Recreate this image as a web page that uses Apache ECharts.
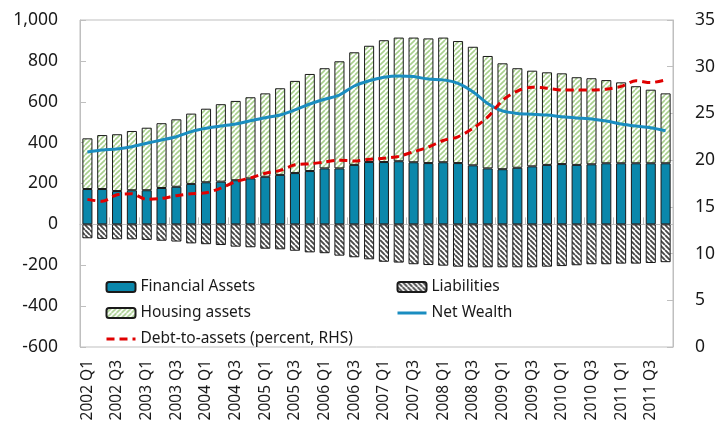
<!DOCTYPE html>
<html><head><meta charset="utf-8">
<script src="https://cdn.jsdelivr.net/npm/echarts@6/dist/echarts.min.js"></script>
<style>html,body{margin:0;padding:0;background:#fff}#c{width:722px;height:434px}</style>
</head><body><div id="c"></div>
<script>
const categories = [];
for (let y = 2002; y <= 2011; y++) for (let q = 1; q <= 4; q++) categories.push(y + ' Q' + q);
const financialAssets = [173,173,163,167,167,178,184,198,206,209,216,225,233,242,251,261,274,274,291,305,305,309,304,300,304,300,289,274,270,277,284,291,295,291,294,299,299,299,299,299];
const housingAssets = [248,264,278,290,306,317,330,344,360,379,388,397,408,424,451,475,490,524,551,569,596,605,610,610,610,597,580,550,518,487,468,453,444,429,421,407,396,377,360,342];
const liabilities = [-68,-71,-73,-73,-76,-80,-84,-93,-97,-101,-109,-112,-119,-122,-129,-137,-141,-153,-161,-171,-183,-187,-195,-199,-202,-207,-210,-210,-210,-210,-210,-207,-204,-200,-195,-195,-192,-192,-189,-185];
const netWealth = [354,364,369,380,397,413,429,454,470,481,491,507,522,535,560,589,612,633,677,703,720,726,723,711,707,690,649,592,555,543,539,535,527,521,516,506,491,481,473,458];
const debtToAssets = [15.8,15.6,16.3,16.4,15.8,15.9,16.2,16.4,16.5,17.0,17.7,18.1,18.6,18.9,19.5,19.6,19.8,20.0,19.9,20.1,20.2,20.4,20.9,21.4,22.1,22.5,23.4,24.6,26.4,27.4,27.8,27.7,27.5,27.5,27.5,27.6,27.9,28.5,28.3,28.6];

function stripes(color, dir, w, size) {
  const c = document.createElement('canvas');
  c.width = size; c.height = size;
  const g = c.getContext('2d');
  g.fillStyle = '#fff'; g.fillRect(0,0,size,size);
  g.strokeStyle = color; g.lineWidth = w;
  g.beginPath();
  for (let k = -1; k <= 1; k++) {
    if (dir > 0) { g.moveTo(k*size, size); g.lineTo(k*size+size, 0); }
    else { g.moveTo(k*size, 0); g.lineTo(k*size+size, size); }
  }
  g.stroke();
  return c;
}
const housingPat = {image: stripes('#a8d08d', 1, 1.6, 5), repeat: 'repeat'};
const liabPat = {image: stripes('#4a4a4a', -1, 1.9, 5), repeat: 'repeat'};

const font = 'Noto Sans';
const chart = echarts.init(document.getElementById('c'));
chart.setOption({
  animation: false,
  textStyle: {fontFamily: font},
  grid: {left: 80, right: 49, top: 20, bottom: 87, show: true, borderColor: '#bfbfbf', borderWidth: 1},
  legend: [
    {orient: 'vertical', left: 100, top: 274, itemWidth: 29, itemHeight: 10, itemGap: 10,
     textStyle: {fontSize: 15.5, color: '#1a1a1a', fontFamily: font},
     data: ['Financial Assets', 'Housing assets',
       {name: 'Debt-to-assets (percent, RHS)', itemStyle: {opacity: 0}, lineStyle: {width: 3}}]},
    {orient: 'vertical', left: 391, top: 274, itemWidth: 29, itemHeight: 10, itemGap: 10,
     textStyle: {fontSize: 15.5, color: '#1a1a1a', fontFamily: font},
     data: ['Liabilities', {name: 'Net Wealth', itemStyle: {opacity: 0}, lineStyle: {width: 3}}]}
  ],
  xAxis: [
    {type: 'category', data: categories, boundaryGap: true,
     axisLine: {onZero: true, lineStyle: {color: '#bfbfbf'}},
     axisTick: {show: true, inside: true, length: 7, interval: 1, lineStyle: {color: '#bfbfbf'}},
     axisLabel: {show: false}},
    {type: 'category', data: categories, position: 'bottom', boundaryGap: true,
     axisLine: {show: false}, axisTick: {show: false},
     axisLabel: {rotate: 90, interval: 1, fontSize: 15.5, color: '#1a1a1a', margin: 13, fontFamily: font}}
  ],
  yAxis: [
    {type: 'value', min: -600, max: 1000, interval: 200,
     axisLine: {show: true, lineStyle: {color: '#bfbfbf'}},
     axisTick: {show: true, inside: true, length: 6, lineStyle: {color: '#bfbfbf'}},
     splitLine: {show: false},
     axisLabel: {fontSize: 17.5, color: '#1a1a1a', margin: 22, fontFamily: font,
       formatter: v => v.toLocaleString('en-US')}},
    {type: 'value', min: 0, max: 35, interval: 5, position: 'right',
     axisLine: {show: true, lineStyle: {color: '#bfbfbf'}},
     axisTick: {show: true, inside: true, length: 6, lineStyle: {color: '#bfbfbf'}},
     splitLine: {show: false},
     axisLabel: {fontSize: 17.5, color: '#1a1a1a', margin: 22, fontFamily: font}}
  ],
  series: [
    {name: 'Financial Assets', type: 'bar', stack: 'a', data: financialAssets, barWidth: '68%',
     itemStyle: {color: '#0a87ab', borderColor: '#1a1a1a', borderWidth: 1}},
    {name: 'Housing assets', type: 'bar', stack: 'a', data: housingAssets, barWidth: '68%',
     itemStyle: {color: housingPat, borderColor: '#1a1a1a', borderWidth: 1}},
    {name: 'Liabilities', type: 'bar', stack: 'a', data: liabilities, barWidth: '68%',
     itemStyle: {color: liabPat, borderColor: '#1a1a1a', borderWidth: 1}},
    {name: 'Net Wealth', type: 'line', data: netWealth, smooth: 0.3, symbol: 'none', z: 5,
     lineStyle: {color: '#1a8dc0', width: 3}, itemStyle: {color: '#1a8dc0'}},
    {name: 'Debt-to-assets (percent, RHS)', type: 'line', yAxisIndex: 1, data: debtToAssets, smooth: 0.3, symbol: 'none', z: 6,
     lineStyle: {color: '#e00000', width: 3, type: [8, 5]}, itemStyle: {color: '#e00000'}}
  ]
});
</script></body></html>
